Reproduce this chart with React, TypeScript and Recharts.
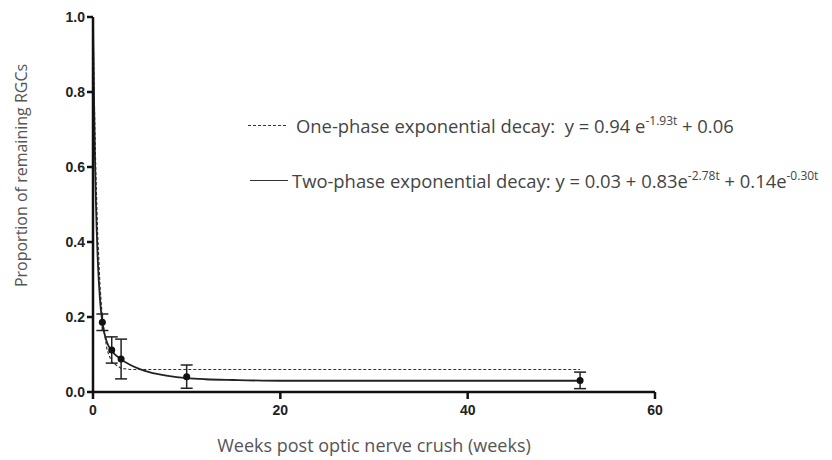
import React from 'react';
import {
  ComposedChart,
  Line,
  Scatter,
  ErrorBar,
  XAxis,
  YAxis,
} from 'recharts';

// Observed data: weeks, mean proportion, error (±)
const weeks = [1, 2, 3, 10, 52];
const means = [0.186, 0.112, 0.088, 0.041, 0.031];
const errors = [0.022, 0.035, 0.053, 0.031, 0.022];

// Curve samples
const curveT = [0, 0.1, 0.2, 0.3, 0.5, 0.75, 1, 1.5, 2, 3, 4, 5, 6, 8, 10, 12, 15, 20, 30, 40, 52];
const twoPhase = [1.0, 0.795, 0.638, 0.518, 0.357, 0.245, 0.185, 0.132, 0.11, 0.087, 0.072, 0.061, 0.053, 0.043, 0.037, 0.034, 0.032, 0.03, 0.03, 0.03, 0.03];
const onePhase = [1.0, 0.835, 0.699, 0.587, 0.418, 0.281, 0.196, 0.112, 0.08, 0.063, 0.06, 0.06, 0.06, 0.06, 0.06, 0.06, 0.06, 0.06, 0.06, 0.06, 0.06];

const xTicks = [0, 20, 40, 60];
const yTicks = [0, 0.2, 0.4, 0.6, 0.8, 1.0];

const pointData = weeks.map((w, i) => ({ x: w, y: means[i], err: errors[i] }));
const twoData = curveT.map((t, i) => ({ x: t, y: twoPhase[i] }));
const oneData = curveT.map((t, i) => ({ x: t, y: onePhase[i] }));

const textFont = '"Open Sans", Lato, "Noto Sans", sans-serif';
const tickFont = '"Liberation Sans", Arial, sans-serif';

const supStyle: React.CSSProperties = { fontSize: 12, verticalAlign: 'baseline', position: 'relative', top: -8 };

const LegendOverlay = () => (
  <div style={{ position: 'absolute', left: 0, top: 0, width: 832, height: 460, fontFamily: textFont, color: '#444', fontSize: 18.4, pointerEvents: 'none' }}>
    <div style={{ position: 'absolute', left: 248, top: 113, display: 'flex', alignItems: 'center', whiteSpace: 'nowrap' }}>
      <span style={{ display: 'inline-block', width: 38, borderTop: '1.5px dashed #333', marginRight: 10 }} />
      <span>One-phase exponential decay:&nbsp; y = 0.94 e<span style={supStyle}>-1.93t</span> + 0.06</span>
    </div>
    <div style={{ position: 'absolute', left: 250, top: 168, display: 'flex', alignItems: 'center', whiteSpace: 'nowrap' }}>
      <span style={{ display: 'inline-block', width: 38, borderTop: '1.5px solid #333', marginRight: 4 }} />
      <span>Two-phase exponential decay: y = 0.03 + 0.83e<span style={supStyle}>-2.78t</span> + 0.14e<span style={supStyle}>-0.30t</span></span>
    </div>
  </div>
);

const Dot = (props: any) => <circle cx={props.cx} cy={props.cy} r={3.5} fill="#111" />;

export default function App() {
  return (
    <div style={{ position: 'absolute', left: 0, top: 0, width: 832, height: 460, background: '#fff' }}>
      <ComposedChart
        width={832}
        height={460}
        margin={{ top: 17, right: 177, bottom: 38, left: 53 }}
      >
        <XAxis
          type="number"
          dataKey="x"
          domain={[0, 60]}
          ticks={xTicks}
          allowDataOverflow
          height={30}
          axisLine={{ stroke: '#111', strokeWidth: 2.5 }}
          tickLine={{ stroke: '#111', strokeWidth: 2.5 }}
          tickSize={7}
          tick={{ fill: '#222', fontSize: 14, fontWeight: 700, fontFamily: tickFont, dy: 4 }}
          label={{
            value: 'Weeks post optic nerve crush (weeks)',
            position: 'insideBottom',
            offset: -30,
            fill: '#555',
            fontSize: 18,
            fontFamily: textFont,
          }}
        />
        <YAxis
          type="number"
          dataKey="y"
          domain={[0, 1]}
          ticks={yTicks}
          width={40}
          tickFormatter={(v: number) => v.toFixed(1)}
          axisLine={{ stroke: '#111', strokeWidth: 2.5 }}
          tickLine={{ stroke: '#111', strokeWidth: 2.5 }}
          tickSize={6}
          tick={{ fill: '#222', fontSize: 14, fontWeight: 700, fontFamily: tickFont }}
          label={{
            value: 'Proportion of remaining RGCs',
            angle: -90,
            position: 'insideLeft',
            dx: -37,
            dy: -29,
            style: { textAnchor: 'middle' },
            fill: '#555',
            fontSize: 16,
            fontFamily: textFont,
          }}
        />
        <Line
          data={oneData}
          dataKey="y"
          type="linear"
          stroke="#333"
          strokeWidth={1.2}
          strokeDasharray="3 2"
          dot={false}
          isAnimationActive={false}
        />
        <Line
          data={twoData}
          dataKey="y"
          type="monotone"
          stroke="#222"
          strokeWidth={1.8}
          dot={false}
          isAnimationActive={false}
        />
        <Scatter data={pointData} dataKey="y" fill="#111" shape={<Dot />} isAnimationActive={false}>
          <ErrorBar dataKey="err" direction="y" width={6} stroke="#222" strokeWidth={1.5} />
        </Scatter>
      </ComposedChart>
      <LegendOverlay />
    </div>
  );
}
